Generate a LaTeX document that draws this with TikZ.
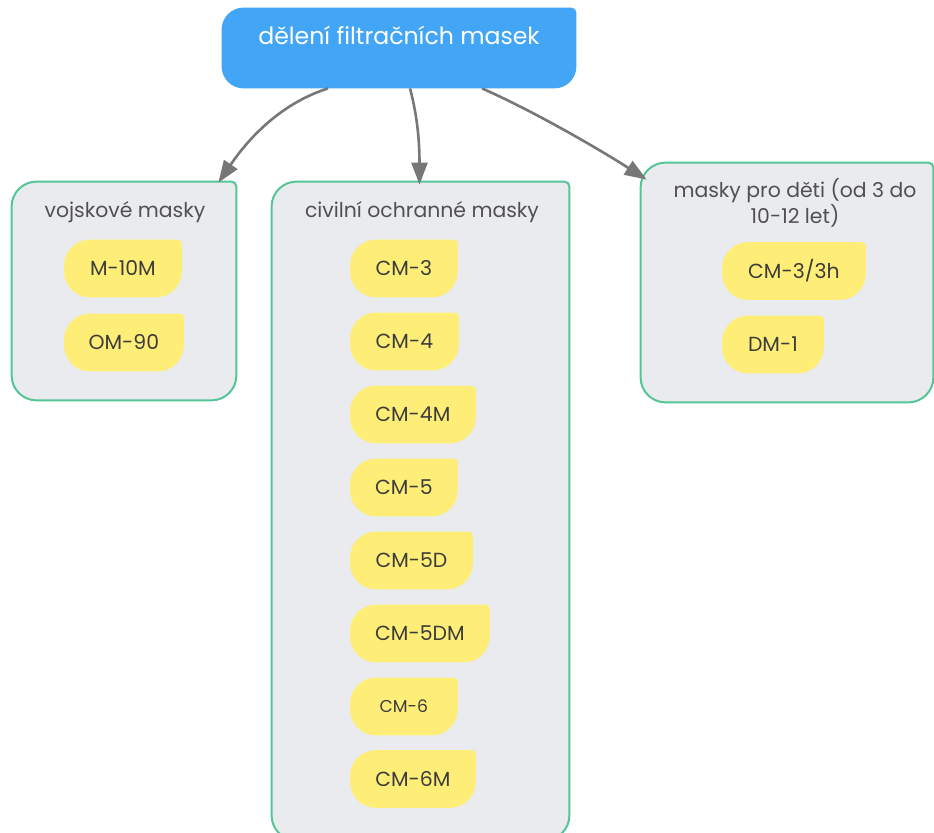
\documentclass[tikz,border=0pt]{standalone}
\usepackage{fontspec}
\setmainfont{Poppins}
\usetikzlibrary{arrows.meta, calc, backgrounds}

\definecolor{topblue}{HTML}{42A5F5}
\definecolor{leafyellow}{HTML}{FEEE78}
\definecolor{groupgray}{HTML}{E9EBEF}
\definecolor{groupgreen}{HTML}{56C596}
\definecolor{arrowgray}{HTML}{777777}
\definecolor{textgray}{HTML}{3C3C3C}

% rounded box: big radius on three corners, small one top right
\newcommand{\blob}[4]{%
  \path[#4] ([xshift=#2]#1.north west) -- ([xshift=-#3]#1.north east)
    arc[start angle=90, end angle=0, radius=#3]
    -- ([yshift=#2]#1.south east) arc[start angle=0, end angle=-90, radius=#2]
    -- ([xshift=#2]#1.south west) arc[start angle=270, end angle=180, radius=#2]
    -- ([yshift=-#2]#1.north west) arc[start angle=180, end angle=90, radius=#2]
    -- cycle;}

\begin{document}
\begin{tikzpicture}[x=0.5pt, y=-0.5pt,
  root/.style={inner sep=0pt, minimum width=177pt, minimum height=40pt,
    text height=9pt, text depth=12pt, text=white, font=\fontsize{11.8}{13}\selectfont},
  group/.style={inner sep=0pt},
  title/.style={text=textgray!90, font=\fontsize{10.2}{10.5}\selectfont, align=center},
  leaf/.style={anchor=west, inner xsep=10pt, inner ysep=0pt, minimum height=28.5pt,
    text=textgray, font=\fontsize{10.2}{11}\selectfont},
  link/.style={draw=arrowgray, line width=1.3pt, -{Triangle[length=11pt, width=8pt]}}]

  \useasboundingbox (0,0) rectangle (934,833);

  % top node
  \node[root] (top) at (399,48) {dělení filtračních masek};

  % groups
  \node[group, minimum width=112pt, minimum height=109pt] (vm) at (124,291) {};
  \node[group, minimum width=148.5pt, minimum height=329pt] (cm) at (420.5,511) {};
  \node[group, minimum width=146pt, minimum height=119.5pt] (dm) at (787,282.5) {};

  \node[title] (vmtitle) at (125,212) {vojskové masky};
  \node[title] (cmtitle) at (422,212) {civilní ochranné masky};
  \node[title] (dmtitle) at (795,203) {masky pro děti (od 3 do\\10-12 let)};

  % vojskove
  \node[leaf, minimum width=58.5pt] (m10m) at (64,268.5) {M-10M};
  \node[leaf, minimum width=59.5pt] (om90) at (64,342.5) {OM-90};

  % civilni
  \node[leaf, minimum width=53.5pt] (cm3) at (350,268.5) {CM-3};
  \node[leaf, minimum width=54pt] (cm4) at (350,341.5) {CM-4};
  \node[leaf, minimum width=62.5pt] (cm4m) at (350,414.5) {CM-4M};
  \node[leaf, minimum width=53.5pt] (cm5) at (350,487.5) {CM-5};
  \node[leaf, minimum width=61pt] (cm5d) at (350,560.5) {CM-5D};
  \node[leaf, minimum width=69.5pt] (cm5dm) at (350,633.5) {CM-5DM};
  \node[leaf, minimum width=53.5pt, font=\fontsize{8.6}{10}\selectfont] (cm6) at (350,706.5) {CM-6};
  \node[leaf, minimum width=62.5pt] (cm6m) at (350,779) {CM-6M};

  % detske
  \node[leaf, minimum width=71.5pt] (cm3h) at (722,271) {CM-3/3h};
  \node[leaf, minimum width=50.5pt] (dm1) at (722,344.5) {DM-1};

  \begin{scope}[on background layer]
    \blob{top}{11pt}{2.5pt}{fill=topblue}
    \foreach \g in {vm, cm, dm}
      {\blob{\g}{12.5pt}{2.5pt}{fill=groupgray, draw=groupgreen, line width=1pt}}
    \foreach \l in {m10m, om90, cm3, cm4, cm4m, cm5, cm5d, cm5dm, cm6, cm6m, cm3h, dm1}
      {\blob{\l}{13pt}{2pt}{fill=leafyellow}}
  \end{scope}

  % arrows
  \draw[link] ($(top.south)+(-71,0)$) .. controls +(-50,16) and +(28,-41) .. ($(vm.north east)+(-18,1)$);
  \draw[link] ($(top.south)+(11,0)$) .. controls +(8,30) and +(0,-40) .. ($(cm.north)+(-1,3)$);
  \draw[link] ($(top.south)+(83,0)$) .. controls +(50,22) and +(-50,-32) .. ($(dm.north west)+(6,17)$);
\end{tikzpicture}
\end{document}
